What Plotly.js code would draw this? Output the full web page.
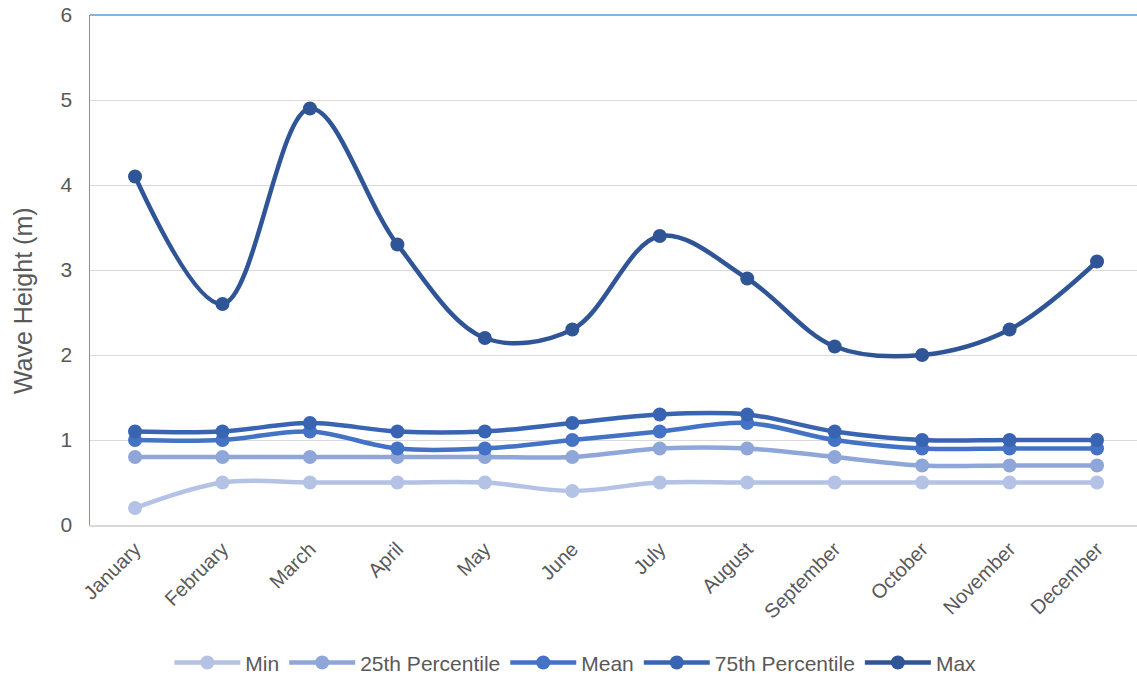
<!DOCTYPE html>
<html>
<head>
<meta charset="utf-8">
<script src="https://cdn.plot.ly/plotly-3.0.1.min.js"></script>
<style>html,body{margin:0;padding:0;background:#fff;overflow:hidden}#chart{width:1137px;height:677px}</style>
</head>
<body>
<div id="chart"></div>
<script>
const months = ["January","February","March","April","May","June","July","August","September","October","November","December"];
const minVals = [0.2,0.5,0.5,0.5,0.5,0.4,0.5,0.5,0.5,0.5,0.5,0.5];
const p25Vals = [0.8,0.8,0.8,0.8,0.8,0.8,0.9,0.9,0.8,0.7,0.7,0.7];
const meanVals = [1.0,1.0,1.1,0.9,0.9,1.0,1.1,1.2,1.0,0.9,0.9,0.9];
const p75Vals = [1.1,1.1,1.2,1.1,1.1,1.2,1.3,1.3,1.1,1.0,1.0,1.0];
const maxVals = [4.1,2.6,4.9,3.3,2.2,2.3,3.4,2.9,2.1,2.0,2.3,3.1];
const seriesNames = ["Min","25th Percentile","Mean","75th Percentile","Max"];
const seriesColors = ["#b4c2e5","#8fa6d8","#4472c4","#3864b2","#2f5597"];
const seriesData = [minVals,p25Vals,meanVals,p75Vals,maxVals];
const yTitle = "Wave Height (m)";

const traces = seriesData.map((vals,i)=>({
  x: months, y: vals, name: seriesNames[i], type:'scatter', mode:'lines+markers',
  line:{color:seriesColors[i], width:4.5, shape:'spline', smoothing:1},
  marker:{color:seriesColors[i], size:14}
}));

const layout = {
  width:1137, height:677,
  margin:{l:90, r:0, t:15, b:152, autoexpand:false},
  paper_bgcolor:'#fff', plot_bgcolor:'#fff',
  font:{family:'Liberation Sans, Arial, sans-serif', color:'#595959'},
  showlegend:true,
  legend:{orientation:'h', xref:'container', yref:'container', x:0.506, xanchor:'center', y:0.021, yanchor:'middle', font:{size:21, color:'#595959'}, itemwidth:66},
  xaxis:{
    type:'category', range:[-0.515, 11.457], tickangle:-45, automargin:false,
    tickfont:{size:20, color:'#595959'}, showgrid:false, ticklabelstandoff:3,
    showline:true, linecolor:'#d9d9d9', linewidth:1.5, ticks:'', zeroline:false, fixedrange:true
  },
  yaxis:{
    range:[0,6], dtick:1, tickfont:{size:21, color:'#595959'}, automargin:false,
    showgrid:true, gridcolor:'#d9d9d9', gridwidth:1, ticklabelstandoff:12,
    showline:true, linecolor:'#5b9bd5', linewidth:1.5, zeroline:false, ticks:'', ticklen:0
  },
  annotations:[{text:yTitle, xref:'paper', yref:'paper', x:-0.064, y:0.441, xanchor:'center', yanchor:'middle', textangle:-90, showarrow:false, font:{size:25, color:'#595959'}}],
  shapes:[{type:'line', xref:'paper', yref:'paper', x0:0, x1:1, y0:1, y1:1, line:{color:'#5b9bd5', width:1.5}}]
};
Plotly.newPlot('chart', traces, layout, {displayModeBar:false, staticPlot:true});
</script>
</body>
</html>
